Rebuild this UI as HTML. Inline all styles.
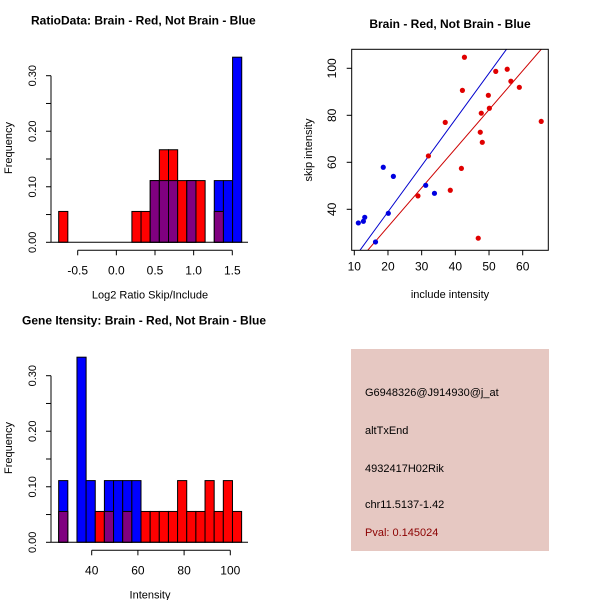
<!DOCTYPE html>
<html><head><meta charset="utf-8"><style>
body{margin:0;background:#fff}
svg{display:block;font-family:"Liberation Sans",sans-serif}
</style></head><body>
<svg id="c" width="600" height="600" viewBox="0 0 600 600">
<rect x="351" y="349" width="198" height="202" fill="#e6c8c2"/>
<g font-size="11">
<text x="365" y="396">G6948326@J914930@j_at</text>
<text x="365" y="434">altTxEnd</text>
<text x="365" y="472">4932417H02Rik</text>
<text x="365" y="508">chr11.5137-1.42</text>
<text x="365" y="536" fill="#8b0000">Pval: 0.145024</text>
</g>
</svg>
<script>
// ---- Ratio histogram data ----
const ratioRange = [-0.746, 1.622];
const ratioRed  = [1,0,0,0,0,0,0,0,1,1,2,3,3,2,2,2,0,1,0,0].map(v=>v/18);
const ratioBlue = [0,0,0,0,0,0,0,0,0,0,1,1,1,0,1,0,0,1,1,3].map(v=>v/9);
const ratioTicks = [-0.5,0,0.5,1,1.5];
const ratioTickLabels = ["-0.5","0.0","0.5","1.0","1.5"];
// ---- Intensity histogram data ----
const intRange = [25.7, 104.9];
const intRed  = [1,0,0,0,1,1,0,1,0,1,1,1,1,2,1,1,2,1,2,1].map(v=>v/18);
const intBlue = [1,0,3,1,0,1,1,1,1,0,0,0,0,0,0,0,0,0,0,0].map(v=>v/9);
const intTicks = [40,60,80,100];
const freqTicks = [0,0.1,0.2,0.3];
const freqTickLabels = ["0.00","0.10","0.20","0.30"];
// ---- Scatter data ----
const blueX = [11.2,12.7,13.1,20.1,18.6,21.6,31.2,33.8,16.3];
const blueY = [34.2,34.9,36.6,38.3,57.9,54.0,50.2,46.8,26.1];
const redX = [42.7,52.0,55.4,56.5,59.0,42.1,49.8,50.1,47.7,37.0,65.5,47.4,48.0,32.0,41.8,28.9,38.5,46.8];
const redY = [104.7,98.7,99.6,94.5,91.9,90.6,88.5,83.0,80.9,77.0,77.4,72.8,68.5,62.7,57.4,45.7,48.1,27.7];
const blueFit = [-0.4, 1.966];
const redFit = [-0.64, 1.66];
const scXTicks = [10,20,30,40,50,60];
const scYTicks = [40,60,80,100];

const svg = document.getElementById('c');
const NS = 'http://www.w3.org/2000/svg';
function mk(tag, attrs, parent){const e=document.createElementNS(NS,tag);for(const k in attrs)e.setAttribute(k,attrs[k]);(parent||svg).appendChild(e);return e;}
function txt(x,y,s,attrs){const e=mk('text',Object.assign({x:x,y:y,'text-anchor':'middle','font-size':11},attrs||{}));e.textContent=s;return e;}

function hist(opt){
  const g=mk('g',{});
  
  
  const fy=v=>opt.y0-(v/0.3)*(opt.y0-opt.y30);
  const fx=v=>opt.x1+(v-opt.t1)*(opt.x2-opt.x1)/(opt.t2-opt.t1);
  const n=opt.red.length, w=(opt.range[1]-opt.range[0])/n;
  for(let i=0;i<n;i++){
    const a=fx(opt.range[0]+i*w), b=fx(opt.range[0]+(i+1)*w);
    const r=opt.red[i], bl=opt.blue[i];
    const draw=(v,c,nm)=>{if(v<=0)return;const e=mk('rect',{x:a,y:fy(v),width:b-a,height:fy(0)-fy(v),fill:c,stroke:'#000','stroke-width':1},g);
      
      };
    if(r>=bl){draw(r,'#ff0000','bar-red');draw(bl,'#800080','bar-overlap');}
    else{draw(bl,'#0000ff','bar-blue');draw(r,'#800080','bar-overlap');}
  }
  mk('line',{x1:51,x2:248,y1:fy(0),y2:fy(0),stroke:'#000'},g);
  const ya=mk('g',{},g);
  
  
  mk('line',{x1:51,x2:51,y1:fy(0),y2:fy(0.3),stroke:'#000'},ya);
  for(let v=0;v<=0.3001;v+=0.05) mk('line',{x1:46,x2:51,y1:fy(v),y2:fy(v),stroke:'#000'},ya);
  freqTicks.forEach((v,i)=>txt(36,fy(v),freqTickLabels[i],{transform:`rotate(-90 36 ${fy(v)})`}));
  txt(12,148+opt.dy,'Frequency',{transform:`rotate(-90 12 ${148+opt.dy})`});
  const xa=mk('g',{},g);
  
  
  const ay=opt.y0+8;
  mk('line',{x1:fx(opt.ticks[0]),x2:fx(opt.ticks[opt.ticks.length-1]),y1:ay,y2:ay,stroke:'#000'},xa);
  opt.ticks.forEach((v,i)=>{mk('line',{x1:fx(v),x2:fx(v),y1:ay,y2:ay+5,stroke:'#000'},xa);txt(fx(v),ay+24,opt.labels[i],{'font-size':12});});
  txt(150,ay+48,opt.xlab);
  txt(opt.tx,opt.y30-51,opt.title,{'font-weight':'bold','font-size':12,'text-anchor':'start'});
}
hist({name:'ratio-histogram',red:ratioRed,blue:ratioBlue,range:ratioRange,y0:242.3,y30:75.7,x1:77.7,x2:232.3,t1:-0.5,t2:1.5,
  ticks:ratioTicks,labels:ratioTickLabels,xlab:'Log2 Ratio Skip/Include',title:'RatioData: Brain - Red, Not Brain - Blue',tx:31,dy:0});
hist({name:'intensity-histogram',red:intRed,blue:intBlue,range:intRange,y0:542.3,y30:375.7,x1:91.7,x2:230.3,t1:40,t2:100,
  ticks:intTicks,labels:intTicks.map(String),xlab:'Intensity',title:'Gene Itensity: Brain - Red, Not Brain - Blue',tx:22,dy:300});

(function(){
  const g=mk('g',{});
  
  
  const X0=351.7,X1=548.3,Y0=250.3,Y1=49.3;
  const sx=v=>354.3+(v-10)*3.368, sy=v=>209.3-(v-40)*2.35;
  const xmin=9.23,xmax=67.6;
  const cp=mk('clipPath',{id:'clp'},g);mk('rect',{x:X0,y:Y1,width:X1-X0,height:Y0-Y1},cp);
  [[blueFit,'#0000cd','fit-line-blue'],[redFit,'#cd0000','fit-line-red']].forEach(([f,c,nm])=>{
    const l=mk('line',{x1:sx(xmin),y1:sy(f[0]+f[1]*xmin),x2:sx(xmax),y2:sy(f[0]+f[1]*xmax),stroke:c,'stroke-width':1,'clip-path':'url(#clp)'},g);
    
    
  });
  blueX.forEach((v,i)=>{const p=mk('circle',{cx:sx(v),cy:sy(blueY[i]),r:2.6,fill:'#0000e0'},g);
    
    });
  redX.forEach((v,i)=>{const p=mk('circle',{cx:sx(v),cy:sy(redY[i]),r:2.6,fill:'#e00000'},g);
    
    });
  mk('rect',{x:X0,y:Y1,width:X1-X0,height:Y0-Y1,fill:'none',stroke:'#000'},g);
  scXTicks.forEach(v=>{mk('line',{x1:sx(v),x2:sx(v),y1:Y0,y2:Y0+5,stroke:'#000'},g);txt(sx(v),Y0+20,String(v),{'font-size':12});});
  scYTicks.forEach(v=>{mk('line',{x1:X0-5,x2:X0,y1:sy(v),y2:sy(v),stroke:'#000'},g);txt(336,sy(v),String(v),{'font-size':12,transform:`rotate(-90 336 ${sy(v)})`});});
  txt(450,298,'include intensity');
  txt(312,150,'skip intensity',{transform:'rotate(-90 312 150)'});
  txt(450,28,'Brain - Red, Not Brain - Blue',{'font-weight':'bold','font-size':12});
})();
</script>
</body></html>
